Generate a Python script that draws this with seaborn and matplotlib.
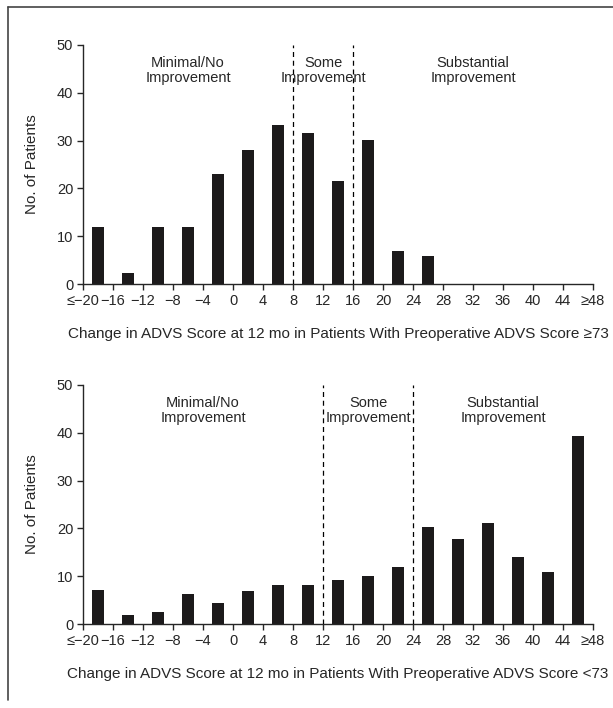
import numpy as np
import pandas as pd
import matplotlib
matplotlib.use("Agg")
import matplotlib.pyplot as plt
import seaborn as sns
from matplotlib.lines import Line2D

# -------------------------------------------------
# DATA
# -------------------------------------------------
bin_centers = [-18, -14, -10, -6, -2, 2, 6, 10, 14, 18, 22, 26, 30, 34, 38, 42, 46]
counts_high = [12, 2.2, 12, 12, 23, 28, 33.2, 31.6, 21.5, 30.2, 7, 5.8, 0, 0, 0, 0, 0]
counts_low = [7.2, 1.8, 2.5, 6.2, 4.4, 7, 8.2, 8.2, 9.3, 10, 12, 20.2, 17.8, 21.2, 14, 10.8, 39.3]

tick_pos = list(range(-20, 49, 4))
tick_labels = ["\u2264\u221220", "\u221216", "\u221212", "\u22128", "\u22124", "0", "4", "8",
               "12", "16", "20", "24", "28", "32", "36", "40", "44", "\u226548"]

cuts_high = [8, 16]
cuts_low = [12, 24]
zone_names = ["Minimal/No\nImprovement", "Some\nImprovement", "Substantial\nImprovement"]
zone_x_high = [-6, 12, 32]
zone_x_low = [-4, 18, 36]

xlabel_high = "Change in ADVS Score at 12 mo in Patients With Preoperative ADVS Score \u226573"
xlabel_low = "Change in ADVS Score at 12 mo in Patients With Preoperative ADVS Score <73"

# -------------------------------------------------
# STYLE
# -------------------------------------------------
sns.set_style("ticks")
plt.rcParams["font.family"] = ["Liberation Sans Narrow", "Liberation Sans", "DejaVu Sans"]
BAR = "#1c1a1b"

W, H = 613, 708
fig = plt.figure(figsize=(W / 100, H / 100), dpi=100)

def px_axes(left, top, right, bottom):
    return fig.add_axes([left / W, 1 - bottom / H, (right - left) / W, (bottom - top) / H])

def draw_panel(ax, counts, cuts, zone_x, xlabel):
    df = pd.DataFrame({"x": bin_centers, "n": counts})
    sns.barplot(data=df, x="x", y="n", native_scale=True, width=0.43,
                color=BAR, saturation=1, ax=ax, edgecolor=BAR, linewidth=0)
    for c in cuts:
        ax.plot([c, c], [0, 50], color="black", lw=0.9, ls=(0, (4, 3)), zorder=3)
    for x, t in zip(zone_x, zone_names):
        ax.text(x, 44.7, t, ha="center", va="center", fontsize=10.5, linespacing=1.05)
    ax.set_xlim(-20, 48)
    ax.set_ylim(0, 50)
    ax.set_xticks(tick_pos)
    ax.set_xticklabels(tick_labels, fontsize=10.5)
    ax.set_yticks([0, 10, 20, 30, 40, 50])
    ax.set_yticklabels(["0", "10", "20", "30", "40", "50"], fontsize=10.5)
    ax.tick_params(axis="both", direction="out", length=4.5, width=1, pad=2.5)
    ax.set_xlabel(xlabel, fontsize=11, labelpad=14)
    ax.set_ylabel("No. of Patients", fontsize=11, labelpad=13)
    ax.spines["left"].set_linewidth(1)
    ax.spines["bottom"].set_linewidth(1)
    sns.despine(ax=ax)

ax1 = px_axes(83, 45, 593, 284)
draw_panel(ax1, counts_high, cuts_high, zone_x_high, xlabel_high)

ax2 = px_axes(83, 385, 593, 624)
draw_panel(ax2, counts_low, cuts_low, zone_x_low, xlabel_low)

# frame lines around the figure (top and left only, as in the scan)
fig.add_artist(Line2D([8 / W, 1], [1 - 7 / H, 1 - 7 / H], color="#444444", lw=1.2,
                      transform=fig.transFigure))
fig.add_artist(Line2D([8 / W, 8 / W], [1 - 7 / H, 1 - 700 / H], color="#444444", lw=1.2,
                      transform=fig.transFigure))

fig.savefig("out.png", dpi=100)
